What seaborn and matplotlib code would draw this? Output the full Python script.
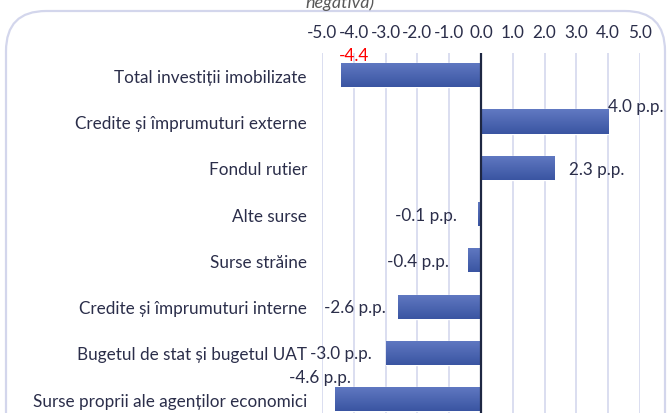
import numpy as np
import pandas as pd
import matplotlib
matplotlib.use("Agg")
import matplotlib.pyplot as plt
import seaborn as sns
from matplotlib.patches import FancyBboxPatch
from matplotlib.colors import LinearSegmentedColormap

# Data
categories = [
    "Total investiții imobilizate",
    "Credite și împrumuturi externe",
    "Fondul rutier",
    "Alte surse",
    "Surse străine",
    "Credite și împrumuturi interne",
    "Bugetul de stat și bugetul UAT",
    "Surse proprii ale agenților economici",
]
values = [-4.4, 4.0, 2.3, -0.1, -0.4, -2.6, -3.0, -4.6]
value_labels = ["-4.4", "4.0 p.p.", "2.3 p.p.", "-0.1 p.p.", "-0.4 p.p.",
                "-2.6 p.p.", "-3.0 p.p.", "-4.6 p.p."]
x_ticks = np.arange(-5, 6, 1)

df = pd.DataFrame({"Sursa": categories, "Valoare": values})

sns.set_theme(style="white")
plt.rcParams["font.family"] = ["Lato", "DejaVu Sans"]

TEXT = "#2b2e4a"
BAR = "#4663b0"
GRID = "#d8dbef"
FS = 12.3

fig = plt.figure(figsize=(6.68, 4.14), dpi=100)
fig.patch.set_facecolor("white")

# rounded chart border, cut off at the bottom like the reference
border = FancyBboxPatch((6 / 668, -0.1), 659 / 668, 1.1 - 12 / 414,
                        boxstyle="round,pad=0,rounding_size=0.06",
                        transform=fig.transFigure, facecolor="none",
                        edgecolor="#d3d6ec", linewidth=1.6, mutation_aspect=668 / 414)
fig.patches.append(border)

fig.text(340 / 668, 1 - 3 / 414, "negativă)", ha="center", va="center",
         fontsize=13, style="italic", color="#595959")

ax = fig.add_axes([322 / 668, 0.0, 318 / 668, 1 - 54 / 414])
sns.barplot(data=df, x="Valoare", y="Sursa", orient="h", color=BAR,
            saturation=1, width=0.52, ax=ax, zorder=3)

# vertical gradient on the bars (lighter on top, darker at the bottom)
grad = LinearSegmentedColormap.from_list("bar", ["#6179c2", "#3a55a2"])
for p in list(ax.patches):
    x0, y0 = p.get_x(), p.get_y()
    w, h = p.get_width(), p.get_height()
    img = ax.imshow(np.linspace(0, 1, 64).reshape(-1, 1), cmap=grad, aspect="auto",
                    extent=(x0, x0 + w, y0 + h, y0), origin="upper", zorder=3.5)
    img.set_clip_path(p)

ax.set_xlim(-5, 5)
ax.set_ylim(7.3, -0.48)
ax.set_xticks(x_ticks)
ax.set_xticklabels([f"{v:.1f}" for v in x_ticks], fontsize=FS, color=TEXT)
ax.xaxis.tick_top()
ax.tick_params(axis="x", length=0, pad=9.5)
ax.tick_params(axis="y", length=0, pad=10.8, labelsize=FS, labelcolor=TEXT)
ax.set_xlabel("")
ax.set_ylabel("")
for s in ax.spines.values():
    s.set_visible(False)
for t in x_ticks:
    ax.axvline(t, color=GRID, lw=1.3, zorder=1)
ax.axvline(0, color="#1e2742", lw=1.6, zorder=4)

# label placement offsets (pixels) as in the reference
offsets = [(13, 20, "center"), (0, 15, "left"), (15, -1, "left"), (-21, -1, "right"),
           (-19, -1, "right"), (-13, 0, "right"), (-14, 0, "right"), (16, 22, "right")]
for i, (v, lab, (dx, dy, ha)) in enumerate(zip(values, value_labels, offsets)):
    ax.annotate(lab, xy=(v, i), xytext=(dx, dy), textcoords="offset pixels",
                ha=ha, va="center", fontsize=FS,
                color="red" if i == 0 else TEXT, zorder=5, annotation_clip=False)

fig.savefig("out.png", dpi=100)
